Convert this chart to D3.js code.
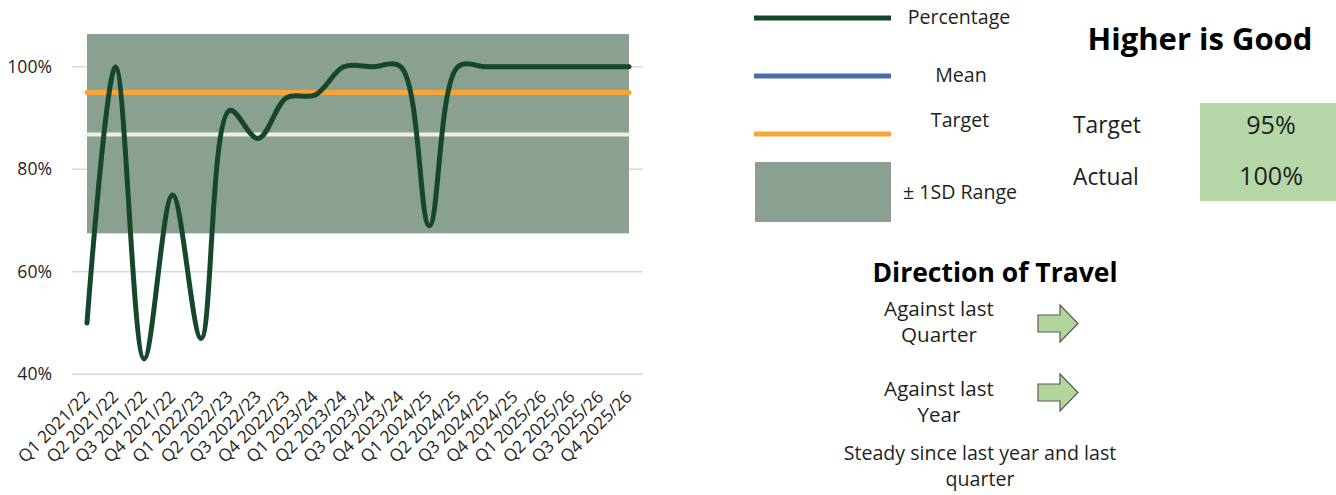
<!DOCTYPE html>
<html><head><meta charset="utf-8">
<script src="https://cdn.jsdelivr.net/npm/d3@7"></script>
<style>
body{margin:0;background:#fff}
svg{display:block;font-family:"Open Sans",sans-serif}
</style>
</head><body>
<svg id="c" width="1336" height="495"></svg>
<script>
const categories = ["Q1 2021/22","Q2 2021/22","Q3 2021/22","Q4 2021/22",
  "Q1 2022/23","Q2 2022/23","Q3 2022/23","Q4 2022/23",
  "Q1 2023/24","Q2 2023/24","Q3 2023/24","Q4 2023/24",
  "Q1 2024/25","Q2 2024/25","Q3 2024/25","Q4 2024/25",
  "Q1 2025/26","Q2 2025/26","Q3 2025/26","Q4 2025/26"];
const percentage = [50,100,43,75,47,91.5,86,94,94.5,100,100,100,69,100,100,100,100,100,100,100];
const targetValue = 95;
const meanValue = 86.8;
const sdUpper = 106.4;
const sdLower = 67.5;
const yTicks = [40,60,80,100];
const legendLabels = ["Percentage","Mean","Target","± 1SD Range"];
const summaryLabels = ["Target","Actual"];
const summaryValues = ["95%","100%"];
const travelLabels = [["Against last","Quarter"],["Against last","Year"]];
const travelNote = ["Steady since last year and last","quarter"];

const C = {line:"#17472A", band:"#8AA091", target:"#F9A43A", mean:"#F4EEDC", meanLegend:"#4A6FA8",
  grid:"#D9D9D9", text:"#1F1F1F", box:"#B5D7A8", arrow:"#B2D59E"};

const svg = d3.select("#c");
const x = d3.scalePoint().domain(categories).range([87, 629]);
const y = d3.scaleLinear().domain([40,100]).range([374.3, 66.8]);

// gridlines
svg.append("g").selectAll("line").data(yTicks).join("line")
  .attr("x1",72).attr("x2",643).attr("y1",d=>y(d)).attr("y2",d=>y(d))
  .attr("stroke",C.grid).attr("stroke-width",1.5);
// y labels
svg.append("g").selectAll("text").data(yTicks).join("text")
  .attr("x",52).attr("y",d=>y(d)).attr("dy","0.35em").attr("text-anchor","end")
  .attr("font-size",17.6).attr("fill",C.text).text(d=>d+"%");

// SD band
svg.append("rect").attr("x",x(categories[0])).attr("width",x(categories[categories.length-1])-x(categories[0]))
  .attr("y",y(sdUpper)).attr("height",y(sdLower)-y(sdUpper)).attr("fill",C.band);

// mean & target
const hline = (v,col,w)=>svg.append("line").attr("x1",x(categories[0])).attr("x2",x(categories[categories.length-1]))
  .attr("y1",y(v)).attr("y2",y(v)).attr("stroke",col).attr("stroke-width",w).attr("stroke-linecap","round");
hline(meanValue,C.mean,4);
hline(targetValue,C.target,5);

// percentage line
const line = d3.line().x((d,i)=>x(categories[i])).y(d=>y(d)).curve(d3.curveCatmullRom.alpha(0.5));
svg.append("path").datum(percentage).attr("d",line).attr("fill","none")
  .attr("stroke",C.line).attr("stroke-width",5).attr("stroke-linecap","round").attr("stroke-linejoin","round");

// x labels
svg.append("g").selectAll("text").data(categories).join("text")
  .attr("transform",d=>`translate(${x(d)+4},398) rotate(-45)`)
  .attr("text-anchor","end").attr("font-size",17.2).attr("fill",C.text).text(d=>d);

// legend
const lg = svg.append("g");
const legendY = [18, 76, 134];
const legendCols = [C.line, C.meanLegend, C.target];
legendY.forEach((ly,i)=>{
  lg.append("line").attr("x1",754).attr("x2",891).attr("y1",ly).attr("y2",ly)
    .attr("stroke",legendCols[i]).attr("stroke-width",5);
});
lg.append("rect").attr("x",755).attr("y",162).attr("width",136).attr("height",60).attr("fill",C.band);
const legendTextPos = [[959,24],[961,82],[960,127],[960,199]];
legendLabels.forEach((t,i)=>{
  lg.append("text").attr("x",legendTextPos[i][0]).attr("y",legendTextPos[i][1]).attr("text-anchor","middle")
    .attr("font-size",19.6).attr("fill",C.text).text(t);
});

// summary panel
svg.append("text").attr("x",1200).attr("y",50).attr("text-anchor","middle").attr("font-size",31)
  .attr("font-weight","bold").attr("fill","#000").text("Higher is Good");
svg.append("rect").attr("x",1200).attr("y",103).attr("width",136).attr("height",98).attr("fill",C.box);
summaryLabels.forEach((t,i)=>{
  svg.append("text").attr("x",1073).attr("y",[133,185][i]).attr("font-size",22.8).attr("fill",C.text).text(t);
  svg.append("text").attr("x",1271).attr("y",[134,185][i]).attr("text-anchor","middle").attr("font-size",25.2).attr("fill",C.text).text(summaryValues[i]);
});

// direction of travel
svg.append("text").attr("x",995).attr("y",282).attr("text-anchor","middle").attr("font-size",26.5)
  .attr("font-weight","bold").attr("fill","#000").text("Direction of Travel");
const arrowShape = "M0,-8.5 L22,-8.5 L22,-18.5 L40,0 L22,18.5 L22,8.5 L0,8.5 Z";
travelLabels.forEach((lines,i)=>{
  const by = [316,396][i];
  lines.forEach((t,j)=>svg.append("text").attr("x",939).attr("y",by+j*26).attr("text-anchor","middle")
    .attr("font-size",20.6).attr("fill",C.text).text(t));
  svg.append("path").attr("d",arrowShape).attr("transform",`translate(1038,${[323.5,392.5][i]})`)
    .attr("fill",C.arrow).attr("stroke","#5A5A5A").attr("stroke-width",1.2);
});
travelNote.forEach((t,j)=>svg.append("text").attr("x",980).attr("y",[460,485.5][j]).attr("text-anchor","middle")
  .attr("font-size",19.6).attr("fill",C.text).text(t));
</script>
</body></html>
